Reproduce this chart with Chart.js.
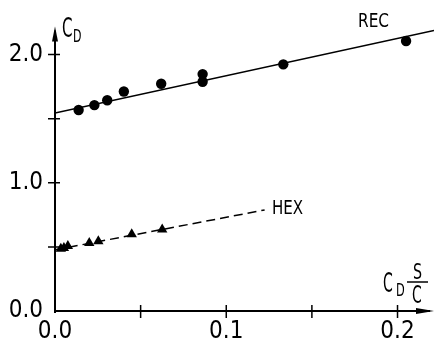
<!DOCTYPE html>
<html>
<head>
<meta charset="utf-8">
<script src="https://cdn.jsdelivr.net/npm/chart.js@4.4.1/dist/chart.umd.min.js"></script>
<style>
  html, body { margin: 0; padding: 0; background: #fff; }
  #wrap { width: 440px; height: 339px; position: relative; }
</style>
</head>
<body>
<div id="wrap"><canvas id="cd"></canvas></div>
<script>
// --- data ---
const recX = [0.0138, 0.023, 0.0305, 0.0402, 0.062, 0.0862, 0.0862, 0.1333, 0.205];
const recY = [1.568, 1.606, 1.644, 1.712, 1.773, 1.788, 1.848, 1.924, 2.106];
const hexX = [0.0034, 0.0052, 0.0075, 0.020, 0.0253, 0.0448, 0.0626];
const hexY = [0.485, 0.492, 0.508, 0.530, 0.545, 0.598, 0.636];
const recFitX = [0, 0.2213];
const recFitY = [1.545, 2.189];
const hexFitX = [0, 0.1224];
const hexFitY = [0.477, 0.788];
const xTicks = [0, 0.05, 0.1, 0.15, 0.2];
const yTicks = [0, 0.5, 1.0, 1.5, 2.0];
const xLabels = ['0.0', '', '0.1', '', '0.2'];
const yLabels = ['0.0', '', '1.0', '', '2.0'];

const FONT = "'DejaVu Sans Condensed', 'Liberation Sans Narrow', sans-serif";
const pts = (xs, ys) => xs.map((x, i) => ({ x: x, y: ys[i] }));

// narrow lettering like the original drawing: squeeze text horizontally
function txt(ctx, s, x, y, size, sx) {
    ctx.save();
    ctx.translate(x, y);
    ctx.scale(sx, 1);
    ctx.font = size + 'px ' + FONT;
    ctx.fillText(s, 0, 0);
    ctx.restore();
}

// axes with arrow heads, crossing tick marks and the free text labels
const axesPlugin = {
    id: 'axesPlugin',
    afterDatasetsDraw(chart) {
        const ctx = chart.ctx;
        const xs = chart.scales.x, ys = chart.scales.y;
        const x0 = xs.getPixelForValue(0), y0 = ys.getPixelForValue(0);
        const area = chart.chartArea;
        ctx.save();
        ctx.strokeStyle = '#000';
        ctx.fillStyle = '#000';
        ctx.lineWidth = 2;
        ctx.beginPath();
        ctx.moveTo(x0, y0 + 2);
        ctx.lineTo(x0, area.top + 4);
        ctx.moveTo(x0 - 1, y0);
        ctx.lineTo(area.right - 4, y0);
        ctx.stroke();
        // arrow heads
        ctx.beginPath();
        ctx.moveTo(x0, area.top);
        ctx.lineTo(x0 - 3, area.top + 15);
        ctx.lineTo(x0 + 3, area.top + 15);
        ctx.closePath();
        ctx.fill();
        ctx.beginPath();
        ctx.moveTo(area.right, y0);
        ctx.lineTo(area.right - 18, y0 - 3);
        ctx.lineTo(area.right - 18, y0 + 3);
        ctx.closePath();
        ctx.fill();
        // crossing ticks
        ctx.lineWidth = 1.5;
        ctx.beginPath();
        yTicks.forEach(v => {
            if (v === 0) return;
            const p = ys.getPixelForValue(v);
            ctx.moveTo(x0 - 7, p);
            ctx.lineTo(x0 + 5, p);
        });
        xTicks.forEach(v => {
            if (v === 0) return;
            const p = xs.getPixelForValue(v);
            ctx.moveTo(p, y0 - 6);
            ctx.lineTo(p, y0 + 7);
        });
        ctx.stroke();

        // text
        ctx.textBaseline = 'alphabetic';
        ctx.textAlign = 'left';
        txt(ctx, 'C', 62, 37, 27, 0.62);
        txt(ctx, 'D', 73, 42, 17, 0.72);

        txt(ctx, 'REC', 358, 27, 20, 0.85);
        txt(ctx, 'HEX', 272, 214, 19, 0.88);

        txt(ctx, 'C', 383, 292, 26, 0.6);
        txt(ctx, 'D', 396, 296, 18, 0.7);
        txt(ctx, 'S', 413, 279, 22, 0.72);
        txt(ctx, 'C', 412, 303, 25, 0.62);
        ctx.lineWidth = 1.5;
        ctx.beginPath();
        ctx.moveTo(407, 282);
        ctx.lineTo(428, 282);
        ctx.stroke();
        ctx.restore();
    }
};

new Chart(document.getElementById('cd').getContext('2d'), {
    type: 'scatter',
    data: {
        datasets: [
            {
                label: 'REC fit',
                type: 'line',
                data: pts(recFitX, recFitY),
                borderColor: '#000',
                borderWidth: 1.5,
                pointRadius: 0,
                fill: false
            },
            {
                label: 'HEX fit',
                type: 'line',
                data: pts(hexFitX, hexFitY),
                borderColor: '#000',
                borderWidth: 1.5,
                borderDash: [9, 5],
                pointRadius: 0,
                fill: false
            },
            {
                label: 'REC',
                data: pts(recX, recY),
                pointStyle: 'circle',
                pointRadius: 5.2,
                backgroundColor: '#000',
                borderColor: '#000',
                borderWidth: 0
            },
            {
                label: 'HEX',
                data: pts(hexX, hexY),
                pointStyle: 'triangle',
                pointRadius: 6,
                backgroundColor: '#000',
                borderColor: '#000',
                borderWidth: 0
            }
        ]
    },
    options: {
        responsive: true,
        maintainAspectRatio: false,
        animation: false,
        layout: { padding: { top: 18, right: 0, left: 0, bottom: 0 } },
        plugins: { legend: { display: false }, tooltip: { enabled: false } },
        scales: {
            x: {
                type: 'linear',
                min: 0,
                max: 0.2213,
                afterBuildTicks(scale) { scale.ticks = xTicks.map(v => ({ value: v })); },
                afterFit(scale) { scale.height = 28; },
                grid: { display: false, drawTicks: false },
                border: { display: false },
                ticks: {
                    autoSkip: false,
                    maxRotation: 0,
                    padding: 6,
                    color: '#000',
                    font: { family: FONT, size: 24 },
                    callback: (v, i) => xLabels[i]
                }
            },
            y: {
                type: 'linear',
                min: 0,
                max: 2.22,
                afterBuildTicks(scale) { scale.ticks = yTicks.map(v => ({ value: v })); },
                afterFit(scale) { scale.width = 55; },
                grid: { display: false, drawTicks: false },
                border: { display: false },
                ticks: {
                    autoSkip: false,
                    padding: 12,
                    color: '#000',
                    font: { family: FONT, size: 24 },
                    callback: (v, i) => yLabels[i]
                }
            }
        }
    },
    plugins: [axesPlugin]
});
</script>
</body>
</html>
